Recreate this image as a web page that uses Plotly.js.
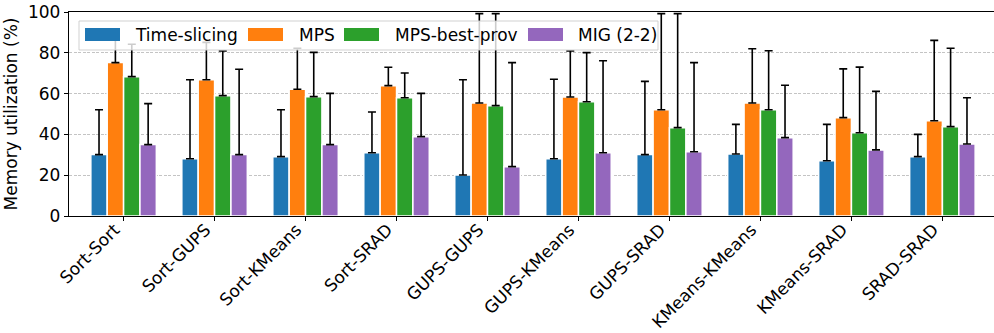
<!DOCTYPE html>
<html>
<head>
<meta charset="utf-8">
<script src="https://cdn.plot.ly/plotly-3.0.1.min.js"></script>
<style>
html, body { margin: 0; padding: 0; overflow: hidden; background: #fff; }
#chart { width: 998px; height: 333px; }
</style>
</head>
<body>
<div id="chart"></div>
<script>
// ---- data ----
const categories = ["Sort-Sort", "Sort-GUPS", "Sort-KMeans", "Sort-SRAD", "GUPS-GUPS",
                    "GUPS-KMeans", "GUPS-SRAD", "KMeans-KMeans", "KMeans-SRAD", "SRAD-SRAD"];
const seriesNames = ["Time-slicing", "MPS", "MPS-best-prov", "MIG (2-2)"];
const seriesColors = ["#1f77b4", "#ff7f0e", "#2ca02c", "#9467bd"];

const timeSlicing      = [30.1, 28.1, 29.1, 31.0, 20.1, 28.1, 30.1, 30.4, 27.1, 29.1];
const timeSlicingUpper = [52.1, 66.8, 52.1, 51.0, 66.8, 67.0, 66.0, 44.9, 44.9, 40.0];

const mps      = [75.2, 66.8, 62.1, 63.9, 55.4, 58.3, 52.1, 55.4, 48.2, 46.7];
const mpsUpper = [87.0, 85.1, 82.2, 72.9, 99.2, 80.9, 99.2, 82.0, 72.1, 86.1];

const mpsBest      = [68.3, 59.0, 58.5, 58.0, 54.1, 56.0, 43.3, 52.1, 40.8, 43.8];
const mpsBestUpper = [84.2, 80.9, 80.2, 70.1, 99.2, 80.1, 99.2, 81.0, 73.0, 82.2];

const mig      = [35.0, 30.1, 35.0, 38.9, 24.2, 31.0, 31.5, 38.4, 32.4, 35.3];
const migUpper = [55.1, 71.9, 60.1, 60.1, 75.2, 76.1, 75.2, 64.1, 61.1, 58.0];

const yTicks = [0, 20, 40, 60, 80, 100];

// ---- build ----
const values = [timeSlicing, mps, mpsBest, mig];
const uppers = [timeSlicingUpper, mpsUpper, mpsBestUpper, migUpper];
const FONT = "DejaVu Sans";
const FS = 17;

const traces = values.map((v, i) => ({
  type: "bar",
  name: seriesNames[i],
  x: categories,
  y: v,
  marker: { color: seriesColors[i], line: { color: "#ffffff", width: 1.5 } },
  error_y: {
    type: "data",
    symmetric: false,
    array: uppers[i].map((u, k) => u - v[k]),
    arrayminus: v.map(() => 0),
    color: "#000000",
    thickness: 1.6,
    width: 4
  },
  showlegend: false,
  hoverinfo: "x+y"
}));

// plot area in pixels
const L = 69, R = 997, T = 12, B = 216;
const px = x => (x - L) / (R - L);
const py = y => (B - y) / (B - T);

const shapes = [{
  type: "rect", xref: "paper", yref: "paper", layer: "above",
  x0: px(79), x1: px(658), y0: py(50), y1: py(21),
  fillcolor: "rgba(255,255,255,0.8)",
  line: { color: "rgba(204,204,204,0.9)", width: 1 }
}];
const annotations = [];
const swatchX = [85, 248, 344, 528];
const textX = [133, 297, 393, 576];
seriesNames.forEach((n, i) => {
  shapes.push({
    type: "rect", xref: "paper", yref: "paper", layer: "above",
    x0: px(swatchX[i]), x1: px(swatchX[i] + 35), y0: py(41), y1: py(28),
    fillcolor: seriesColors[i], line: { width: 0 }
  });
  annotations.push({
    xref: "paper", yref: "paper", x: px(textX[i]), y: py(35),
    xanchor: "left", yanchor: "middle", showarrow: false,
    text: n, font: { family: FONT, size: FS, color: "#000" }
  });
});

const layout = {
  width: 998, height: 333,
  margin: { l: L, r: 998 - R, t: T, b: 333 - B },
  paper_bgcolor: "#fff", plot_bgcolor: "#fff",
  font: { family: FONT, size: FS, color: "#000" },
  barmode: "group",
  bargap: 0.28,
  bargroupgap: 0,
  showlegend: false,
  xaxis: {
    type: "category",
    range: [-0.6, 9.6],
    tickangle: -45,
    ticklabelshift: -9,
    ticklabelstandoff: -8,
    ticks: "outside", ticklen: 4, tickwidth: 1, tickcolor: "#000",
    showline: true, linecolor: "#000", linewidth: 1.2, mirror: true,
    showgrid: false,
    tickfont: { family: FONT, size: FS, color: "#000" },
    automargin: false
  },
  yaxis: {
    range: [0, 100],
    tickvals: yTicks,
    ticktext: yTicks.map(String),
    ticks: "outside", ticklen: 4, tickwidth: 1, tickcolor: "#000",
    showline: true, linecolor: "#000", linewidth: 1.2, mirror: true,
    showgrid: true, gridcolor: "#c4c4c4", griddash: "3px,1.5px", gridwidth: 1,
    zeroline: false,
    tickfont: { family: FONT, size: FS, color: "#000" },
    title: { text: "Memory utilization (%)", font: { family: FONT, size: FS, color: "#000" }, standoff: 6 },
    automargin: false
  },
  shapes: shapes,
  annotations: annotations
};

Plotly.newPlot("chart", traces, layout, { displayModeBar: false, staticPlot: true });
</script>
</body>
</html>
